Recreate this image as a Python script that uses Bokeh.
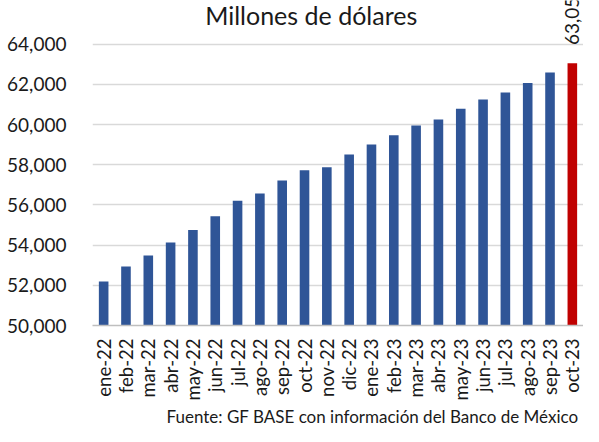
import math
from bokeh.plotting import figure
from bokeh.models import FixedTicker, NumeralTickFormatter, Label, Range1d, ColumnDataSource, Title
from bokeh.core.properties import value
from bokeh.embed import file_html
from bokeh.resources import INLINE

months = ["ene-22", "feb-22", "mar-22", "abr-22", "may-22", "jun-22", "jul-22",
          "ago-22", "sep-22", "oct-22", "nov-22", "dic-22", "ene-23", "feb-23",
          "mar-23", "abr-23", "may-23", "jun-23", "jul-23", "ago-23", "sep-23", "oct-23"]
values = [52190, 52940, 53480, 54125, 54750, 55435, 56210,
          56570, 57220, 57730, 57870, 58505, 59000, 59460,
          59950, 60250, 60790, 61240, 61590, 62060, 62590, 63052]
y_ticks = [50000, 52000, 54000, 56000, 58000, 60000, 62000, 64000]
title_text = "Millones de dólares"
source_text = "Fuente: GF BASE con información del Banco de México"
last_label = "63,052"

FONT = "Lato"
TXT = "#1a1a1a"

xs = list(range(len(months)))
colors = ["#2F5597"] * (len(months) - 1) + ["#C00000"]
src = ColumnDataSource(dict(x=xs, top=values, color=colors))

p = figure(width=583, height=426, output_backend="svg", toolbar_location=None,
           x_range=Range1d(-0.5, len(months) - 0.5), y_range=Range1d(50000, 66170),
           min_border_left=92, min_border_right=0, min_border_top=0, min_border_bottom=60)
p.outline_line_color = None
p.background_fill_color = "white"

p.vbar(x="x", top="top", bottom=50000, width=0.43, color="color", line_color=None, source=src)

# last value label, rotated
p.text(x=[xs[-1]], y=[values[-1] + 900], text=[last_label], angle=math.pi / 2,
       text_align="left", text_baseline="middle", text_font=value(FONT),
       text_font_size="19px", text_color=TXT)

# axes
p.xaxis.ticker = FixedTicker(ticks=xs)
p.xaxis.major_label_overrides = {i: m for i, m in enumerate(months)}
p.xaxis.major_label_orientation = math.pi / 2
p.xaxis.major_label_text_font = FONT
p.xaxis.major_label_text_font_size = "18.5px"
p.xaxis.major_label_text_color = TXT
p.xaxis.major_label_standoff = 7
p.xaxis.major_tick_line_color = None
p.xaxis.minor_tick_line_color = None
p.xaxis.axis_line_color = "#bfbfbf"
p.xaxis.axis_line_width = 1.5

p.yaxis.ticker = FixedTicker(ticks=y_ticks)
p.yaxis.formatter = NumeralTickFormatter(format="0,0")
p.yaxis.major_label_text_font = FONT
p.yaxis.major_label_text_font_size = "19px"
p.yaxis.major_label_text_color = TXT
p.yaxis.major_label_standoff = 20
p.yaxis.major_tick_line_color = None
p.yaxis.minor_tick_line_color = None
p.yaxis.axis_line_color = None

p.xgrid.grid_line_color = None
p.ygrid.grid_line_color = "#d9d9d9"
p.ygrid.grid_line_width = 1.5

p.add_layout(Label(x=9.3, y=65450, text=title_text, text_align="center",
                   text_baseline="middle", text_font=FONT, text_font_size="25px",
                   text_color=TXT))
p.add_layout(Title(text=source_text, align="right", offset=5, standoff=0,
                   text_font=FONT, text_font_size="17px", text_font_style="normal",
                   text_color=TXT), "below")

open("out.html", "w").write(file_html(p, INLINE))
